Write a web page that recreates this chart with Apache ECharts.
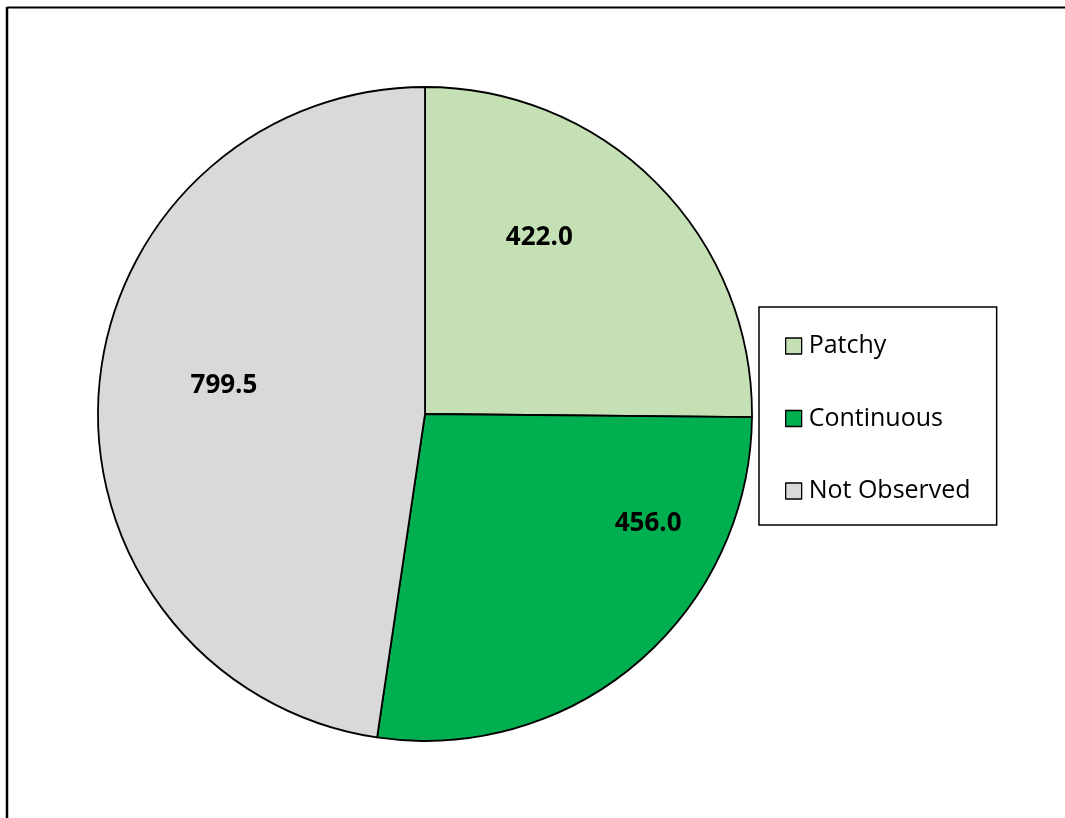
<!DOCTYPE html>
<html>
<head>
<meta charset="utf-8">
<style>
  html, body { margin: 0; padding: 0; background: #fff; }
  #chart { width: 1065px; height: 818px; }
</style>
<script src="https://cdn.jsdelivr.net/npm/echarts@6/dist/echarts.min.js"></script>
</head>
<body>
<div id="chart"></div>
<script>
// Coverage categories and their totals
const categories = ['Patchy', 'Continuous', 'Not Observed'];
const values = [422.0, 456.0, 799.5];
const colors = ['#C5E0B4', '#00B050', '#D9D9D9'];

// Nudges for each slice label, relative to the default inside position
const labelNudge = [[-4, -59], [115, -17], [-35, -16]];

const FONT = '"Open Sans", "Noto Sans", sans-serif';

const chart = echarts.init(document.getElementById('chart'), null, { renderer: 'canvas' });

chart.setOption({
  backgroundColor: '#ffffff',
  animation: false,
  graphic: [
    // chart area frame: top and left edges
    { type: 'line', shape: { x1: 7, y1: 7.5, x2: 1065, y2: 7.5 }, style: { stroke: '#000', lineWidth: 2 } },
    { type: 'line', shape: { x1: 7, y1: 7, x2: 7, y2: 818 }, style: { stroke: '#000', lineWidth: 2.5 } }
  ],
  legend: {
    orient: 'vertical',
    left: 759,
    top: 307,
    padding: [24, 26, 19, 26],
    borderColor: '#000',
    borderWidth: 1.5,
    itemWidth: 16,
    itemHeight: 16,
    itemGap: 42.5,
    icon: 'rect',
    itemStyle: { borderColor: '#000', borderWidth: 1.3 },
    textStyle: { fontFamily: FONT, fontSize: 25, color: '#000', lineHeight: 30, padding: [0, 0, 0, 2] },
    data: categories
  },
  series: [{
    type: 'pie',
    center: [425, 414],
    radius: 327,
    startAngle: 90,
    clockwise: true,
    avoidLabelOverlap: false,
    itemStyle: { borderColor: '#000', borderWidth: 1.8 },
    label: {
      show: true,
      position: 'inside',
      fontFamily: FONT,
      fontSize: 26,
      fontWeight: 'bold',
      color: '#000',
      formatter: p => p.value.toFixed(1)
    },
    labelLine: { show: false },
    emphasis: { disabled: true },
    labelLayout: params => ({ dx: labelNudge[params.dataIndex][0], dy: labelNudge[params.dataIndex][1] }),
    data: categories.map((name, i) => ({ name, value: values[i], itemStyle: { color: colors[i] } }))
  }]
});
</script>
</body>
</html>
